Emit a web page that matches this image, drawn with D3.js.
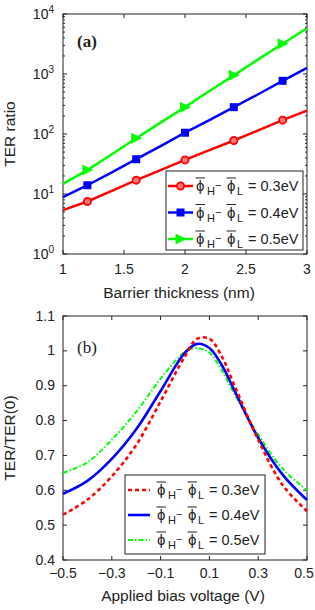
<!DOCTYPE html>
<html>
<head>
<meta charset="utf-8">
<script src="https://cdn.jsdelivr.net/npm/d3@7"></script>
<style>
  body { margin: 0; background: white; }
  text { font-family: "Liberation Sans", Arial, sans-serif; fill: #222; }
</style>
</head>
<body>
<div id="chart"></div>
<script>
// panel (a): TER ratio vs barrier thickness
const thickness = [1.0, 1.2, 1.4, 1.6, 1.8, 2.0, 2.2, 2.4, 2.6, 2.8, 3.0];
const markerThickness = [1.2, 1.6, 2.0, 2.4, 2.8];
const ter03 = [5.4, 7.5, 11.3, 17, 25, 37, 54, 78, 115, 170, 245];
const ter04 = [8.9, 14, 23, 38, 63, 105, 170, 280, 460, 770, 1260];
const ter05 = [14.7, 25, 46, 85, 155, 280, 520, 950, 1750, 3200, 5800];

// panel (b): normalised TER vs applied bias
const bias = [-0.5, -0.4, -0.3, -0.2, -0.1, 0, 0.05, 0.1, 0.15, 0.2, 0.3, 0.4, 0.5];
const norm03 = [0.53, 0.573, 0.64, 0.73, 0.855, 0.985, 1.035, 1.035, 0.985, 0.905, 0.745, 0.615, 0.54];
const norm04 = [0.59, 0.627, 0.69, 0.775, 0.885, 0.995, 1.02, 1.008, 0.96, 0.89, 0.75, 0.645, 0.572];
const norm05 = [0.65, 0.68, 0.745, 0.825, 0.92, 0.997, 1.008, 0.995, 0.945, 0.88, 0.76, 0.662, 0.60];

const barriers = ["0.3eV", "0.4eV", "0.5eV"];
const colors = ["#ff0000", "#0000ff", "#00ff00"];

const width = 315, height = 610;
const left = 63, right = 307;
const tickFont = "14px", labelFont = "15.5px";

const svg = d3.select("#chart").append("svg")
  .attr("width", width)
  .attr("height", height);

// ---------- panel (a) ----------
const xA = d3.scaleLinear().domain([1, 3]).range([left, right]);
const yA = d3.scaleLog().domain([1, 10000]).range([254, 14]);

const gA = svg.append("g");
gA.append("rect")
  .attr("x", left).attr("y", 14)
  .attr("width", right - left).attr("height", 240)
  .attr("fill", "none").attr("stroke", "#222").attr("stroke-width", 1);

// x ticks (bottom + top, inward)
const xTicksA = [1, 1.5, 2, 2.5, 3];
xTicksA.forEach(t => {
  gA.append("line").attr("x1", xA(t)).attr("x2", xA(t)).attr("y1", 254).attr("y2", 250).attr("stroke", "#222");
  gA.append("line").attr("x1", xA(t)).attr("x2", xA(t)).attr("y1", 14).attr("y2", 18).attr("stroke", "#222");
  gA.append("text").attr("x", xA(t)).attr("y", 274).attr("text-anchor", "middle")
    .style("font-size", tickFont).text(t);
});

// y ticks: decades + minor
for (let e = 0; e <= 4; e++) {
  const v = Math.pow(10, e);
  gA.append("line").attr("x1", left).attr("x2", left + 4).attr("y1", yA(v)).attr("y2", yA(v)).attr("stroke", "#222");
  gA.append("line").attr("x1", right).attr("x2", right - 4).attr("y1", yA(v)).attr("y2", yA(v)).attr("stroke", "#222");
  const lab = gA.append("text").attr("x", 54).attr("y", yA(v) + 5).attr("text-anchor", "end")
    .style("font-size", tickFont);
  lab.append("tspan").text("10");
  lab.append("tspan").attr("dy", -6).style("font-size", "10px").text(e);
  if (e < 4) {
    for (let m = 2; m <= 9; m++) {
      const mv = m * v;
      gA.append("line").attr("x1", left).attr("x2", left + 2).attr("y1", yA(mv)).attr("y2", yA(mv)).attr("stroke", "#222");
      gA.append("line").attr("x1", right).attr("x2", right - 2).attr("y1", yA(mv)).attr("y2", yA(mv)).attr("stroke", "#222");
    }
  }
}

const lineA = d3.line().x((d, i) => xA(thickness[i])).y(d => yA(d));
const seriesA = [ter03, ter04, ter05];
seriesA.forEach((s, k) => {
  gA.append("path").attr("d", lineA(s))
    .attr("fill", "none").attr("stroke", colors[k]).attr("stroke-width", 2.5);
});

function drawMarker(g, k, x, y) {
  if (k === 0) {
    g.append("circle").attr("cx", x).attr("cy", y).attr("r", 3.6)
      .attr("fill", "#ff7777").attr("stroke", colors[0]).attr("stroke-width", 1.8);
  } else if (k === 1) {
    g.append("rect").attr("x", x - 4).attr("y", y - 4).attr("width", 8).attr("height", 8)
      .attr("fill", colors[1]);
  } else {
    g.append("path").attr("d", `M${x - 5},${y - 5.5}L${x + 6},${y}L${x - 5},${y + 5.5}Z`)
      .attr("fill", colors[2]);
  }
}

seriesA.forEach((s, k) => {
  thickness.forEach((t, i) => {
    if (markerThickness.some(m => Math.abs(m - t) < 1e-6)) drawMarker(gA, k, xA(t), yA(s[i]));
  });
});

gA.append("text").attr("x", 77).attr("y", 47)
  .style("font-family", "'Liberation Serif', 'Times New Roman', serif")
  .style("font-weight", "bold").style("font-size", "17px").text("(a)");

gA.append("text").attr("x", 179).attr("y", 298).attr("text-anchor", "middle")
  .style("font-size", labelFont).text("Barrier thickness (nm)");
gA.append("text").attr("transform", "translate(15,134) rotate(-90)").attr("text-anchor", "middle")
  .style("font-size", labelFont).text("TER ratio");

// ---------- panel (b) ----------
const xB = d3.scaleLinear().domain([-0.5, 0.5]).range([left, right]);
const yB = d3.scaleLinear().domain([0.4, 1.1]).range([560, 316]);

const gB = svg.append("g");
gB.append("rect")
  .attr("x", left).attr("y", 316)
  .attr("width", right - left).attr("height", 244)
  .attr("fill", "none").attr("stroke", "#222").attr("stroke-width", 1);

const xTicksB = [-0.5, -0.3, -0.1, 0.1, 0.3, 0.5];
xTicksB.forEach(t => {
  gB.append("line").attr("x1", xB(t)).attr("x2", xB(t)).attr("y1", 560).attr("y2", 556).attr("stroke", "#222");
  gB.append("line").attr("x1", xB(t)).attr("x2", xB(t)).attr("y1", 316).attr("y2", 320).attr("stroke", "#222");
  gB.append("text").attr("x", Math.min(xB(t), 304)).attr("y", 578).attr("text-anchor", "middle")
    .style("font-size", tickFont).text(d3.format(".1f")(t).replace("-", "\u2212"));
});
const yTicksB = [0.4, 0.5, 0.6, 0.7, 0.8, 0.9, 1.0, 1.1];
yTicksB.forEach(t => {
  gB.append("line").attr("x1", left).attr("x2", left + 4).attr("y1", yB(t)).attr("y2", yB(t)).attr("stroke", "#222");
  gB.append("line").attr("x1", right).attr("x2", right - 4).attr("y1", yB(t)).attr("y2", yB(t)).attr("stroke", "#222");
  gB.append("text").attr("x", 55).attr("y", yB(t) + 4.5).attr("text-anchor", "end")
    .style("font-size", tickFont).text(t === 1 ? "1" : d3.format(".1f")(t));
});

const dashes = ["4,3", null, "5,2,1.5,2"];
const widthsB = [2.6, 2.6, 2];
const lineB = d3.line().x((d, i) => xB(bias[i])).y(d => yB(d)).curve(d3.curveCatmullRom);
[norm05, norm04, norm03].forEach((s, j) => {
  const k = 2 - j;
  gB.append("path").attr("d", lineB(s))
    .attr("fill", "none").attr("stroke", colors[k]).attr("stroke-width", widthsB[k])
    .attr("stroke-dasharray", dashes[k]);
});

gB.append("text").attr("x", 77).attr("y", 353)
  .style("font-family", "'Liberation Serif', 'Times New Roman', serif")
  .style("font-size", "17px").text("(b)");

gB.append("text").attr("x", 183).attr("y", 601).attr("text-anchor", "middle")
  .style("font-size", labelFont).text("Applied bias voltage (V)");
gB.append("text").attr("transform", "translate(15,438) rotate(-90)").attr("text-anchor", "middle")
  .style("font-size", labelFont).text("TER/TER(0)");

// ---------- legends ----------
function legendLabel(g, x, y, value) {
  const phi = "\u03d5";
  const parts = [
    { dx: 0, dy: 0, size: "15px", txt: phi, bar: true },
    { dx: 11, dy: 4, size: "11px", txt: "H" },
    { dx: 19, dy: -2, size: "11px", txt: "\u2212" },
    { dx: 31, dy: 0, size: "15px", txt: phi, bar: true },
    { dx: 41, dy: 4, size: "11px", txt: "L" },
    { dx: 52, dy: 0, size: "14.5px", txt: "= " + value }
  ];
  parts.forEach(p => {
    const t = g.append("text").attr("x", x + p.dx).attr("y", y + p.dy)
      .style("font-size", p.size).text(p.txt);
    if (p.bar) {
      const w = t.node().getComputedTextLength();
      g.append("line")
        .attr("x1", x + p.dx - 0.5).attr("x2", x + p.dx + w + 0.5)
        .attr("y1", y - 13).attr("y2", y - 13)
        .attr("stroke", "#222").attr("stroke-width", 1);
    }
  });
}

// legend (a)
const legA = svg.append("g");
legA.append("rect").attr("x", 166).attr("y", 171).attr("width", 137).attr("height", 79)
  .attr("fill", "white").attr("stroke", "#222").attr("stroke-width", 1);
barriers.forEach((b, k) => {
  const y = 186 + k * 26.5;
  legA.append("line").attr("x1", 168).attr("x2", 193).attr("y1", y).attr("y2", y)
    .attr("stroke", colors[k]).attr("stroke-width", 2.5);
  drawMarker(legA, k, 180.5, y);
  legendLabel(legA, 196, y + 5, b);
});

// legend (b)
const legB = svg.append("g");
legB.append("rect").attr("x", 125).attr("y", 475).attr("width", 140).attr("height", 79)
  .attr("fill", "white").attr("stroke", "#222").attr("stroke-width", 1);
barriers.forEach((b, k) => {
  const y = 490 + k * 25;
  legB.append("line").attr("x1", 128).attr("x2", 150).attr("y1", y).attr("y2", y)
    .attr("stroke", colors[k]).attr("stroke-width", widthsB[k])
    .attr("stroke-dasharray", dashes[k]);
  legendLabel(legB, 157, y + 5, b);
});
</script>
</body>
</html>
